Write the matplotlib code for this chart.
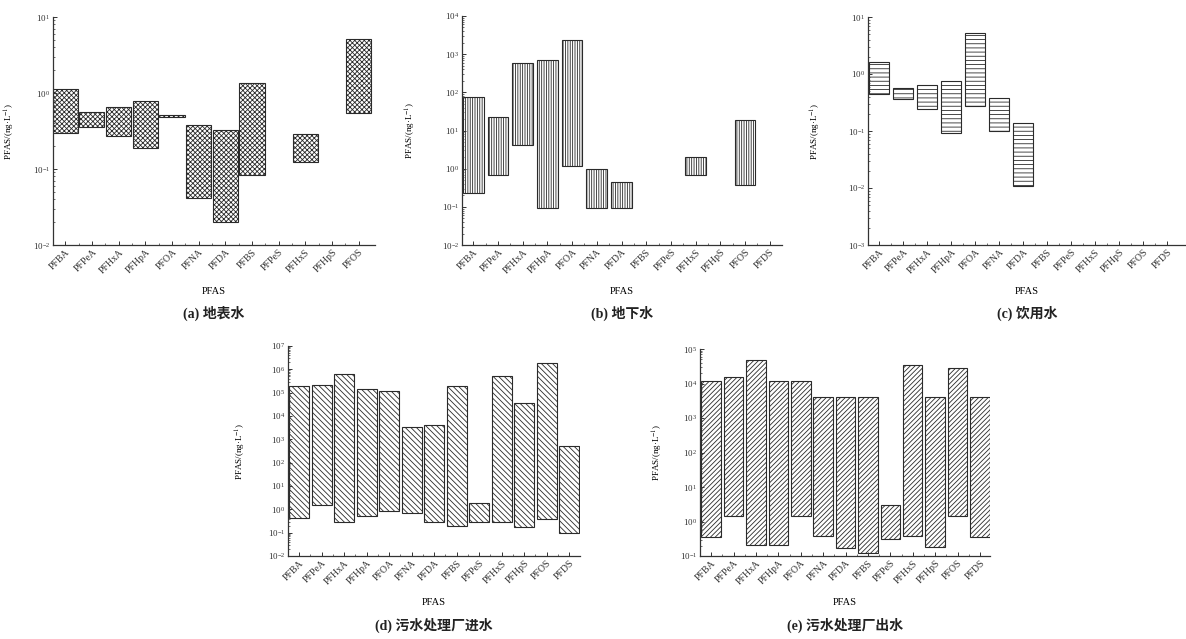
import numpy as np
import matplotlib
matplotlib.use("Agg")
import matplotlib.pyplot as plt
from matplotlib.ticker import LogLocator, NullFormatter, FixedLocator

plt.rcParams['font.family'] = ['Liberation Serif', 'Noto Sans CJK SC']
plt.rcParams['mathtext.fontset'] = 'stix'
plt.rcParams['hatch.linewidth'] = 0.6

nan = np.nan

# compound names
names_a = ["PFBA", "PFPeA", "PFHxA", "PFHpA", "PFOA", "PFNA", "PFDA",
           "PFBS", "PFPeS", "PFHxS", "PFHpS", "PFOS"]
names = names_a + ["PFDS"]

# (a) surface water, ng/L  min / max
a_lo = [0.30, 0.36, 0.27, 0.19, 0.48, 0.041, 0.020, 0.083, nan, 0.124, nan, 0.55]
a_hi = [1.12, 0.57, 0.66, 0.78, 0.52, 0.38, 0.33, 1.35, nan, 0.29, nan, 5.2]

# (b) groundwater
b_lo = [0.23, 0.69, 4.1, 0.092, 1.15, 0.092, 0.092, nan, nan, 0.67, nan, 0.37, nan]
b_hi = [74, 23, 590, 720, 2400, 1.0, 0.44, nan, nan, 2.0, nan, 19, nan]

# (c) drinking water
c_lo = [0.44, 0.36, 0.24, 0.092, 0.28, 0.10, 0.011, nan, nan, nan, nan, nan, nan]
c_hi = [1.65, 0.57, 0.65, 0.76, 5.2, 0.38, 0.14, nan, nan, nan, nan, nan, nan]

# (d) WWTP influent
d_lo = [0.44, 1.5, 0.30, 0.52, 0.85, 0.72, 0.28, 0.19, 0.28, 0.28, 0.18, 0.37, 0.10]
d_hi = [1.9e5, 2.1e5, 6.1e5, 1.4e5, 1.2e5, 3300, 4100, 1.9e5, 1.8, 5.2e5, 3.7e4, 1.8e6, 520]

# (e) WWTP effluent
e_lo = [0.35, 1.4, 0.21, 0.21, 1.46, 0.38, 0.17, 0.12, 0.31, 0.38, 0.18, 1.46, 0.36]
e_hi = [1.15e4, 1.56e4, 4.8e4, 1.2e4, 1.2e4, 4100, 4100, 4100, 3.0, 3.5e4, 4100, 2.9e4, 4100]

W, H = 1186, 639
fig = plt.figure(figsize=(W / 100, H / 100), dpi=100)


def make_ax(left, right, top, bottom):
    return fig.add_axes([left / W, (H - bottom) / H, (right - left) / W, (bottom - top) / H])


panels = [
    # box px, labels, lo, hi, ylim, hatch, bar width, xlim, title
    ((53, 375, 17, 245), names_a, a_lo, a_hi, (1e-2, 1e1), 'x' * 7, 0.94, (-0.46, 11.61), "(a) 地表水"),
    ((462, 782, 16, 245), names, b_lo, b_hi, (1e-2, 1e4), '|' * 7, 0.84, (-0.46, 12.5), "(b) 地下水"),
    ((868, 1186, 17, 245), names, c_lo, c_hi, (1e-3, 1e1), '-' * 4, 0.83, (-0.46, 12.79), "(c) 饮用水"),
    ((288, 580, 346, 556), names, d_lo, d_hi, (1e-2, 1e7), '\\' * 6, 0.9, (-0.5, 12.48), "(d) 污水处理厂进水"),
    ((700, 990, 349, 556), names, e_lo, e_hi, (1e-1, 1e5), '/' * 7, 0.87, (-0.5, 12.45), "(e) 污水处理厂出水"),
]
ylab_x = [17, 418, 823, 248, 665]

for k, (box, labs, lo, hi, ylim, hatch, bw, xlim, title) in enumerate(panels):
    left, right, top, bottom = box
    ax = make_ax(left, right, top, bottom)
    x = np.arange(len(labs))
    lo = np.array(lo)
    hi = np.array(hi)
    ax.bar(x, hi - lo, bottom=lo, width=bw, facecolor='white',
           edgecolor='#2a2a2a', linewidth=0.8, hatch=hatch)
    ax.set_yscale('log')
    ax.set_ylim(*ylim)
    ax.set_xlim(*xlim)
    for s in ['top', 'right']:
        ax.spines[s].set_visible(False)
    for s in ['left', 'bottom']:
        ax.spines[s].set_linewidth(0.9)
        ax.spines[s].set_color('#333333')
    ax.yaxis.set_major_locator(LogLocator(base=10, numticks=20))
    ax.yaxis.set_minor_locator(LogLocator(base=10, subs=np.arange(2, 10), numticks=20))
    ax.yaxis.set_minor_formatter(NullFormatter())
    ax.set_xticks(x)
    ax.xaxis.set_minor_locator(FixedLocator(x[:-1] + 0.5))
    ax.set_xticklabels(labs, rotation=45, ha='right', rotation_mode='anchor', fontsize=7)
    ax.tick_params(axis='both', which='major', direction='in', length=3, width=0.7, colors='#333333')
    ax.tick_params(axis='both', which='minor', direction='in', length=1.5, width=0.5, colors='#333333')
    ax.tick_params(axis='y', labelsize=6.5, pad=2)
    ax.tick_params(axis='x', pad=2)
    ax.set_ylabel("PFAS/(ng·L$^{-1}$)", fontsize=6.5)
    ax.yaxis.set_label_coords((ylab_x[k] - left) / (right - left), 0.5)
    ax.set_xlabel("PFAS", fontsize=7.5)
    lab_y = 287 if bottom < 300 else 598
    ax.xaxis.set_label_coords(0.5, (bottom - lab_y) / (bottom - top))
    ttl_y = 313 if bottom < 300 else 625
    ax.text(0.5, (bottom - ttl_y) / (bottom - top), title, transform=ax.transAxes,
            ha='center', va='center', fontsize=10, fontweight='bold', color='#222222')

fig.savefig("out.png", dpi=100)
